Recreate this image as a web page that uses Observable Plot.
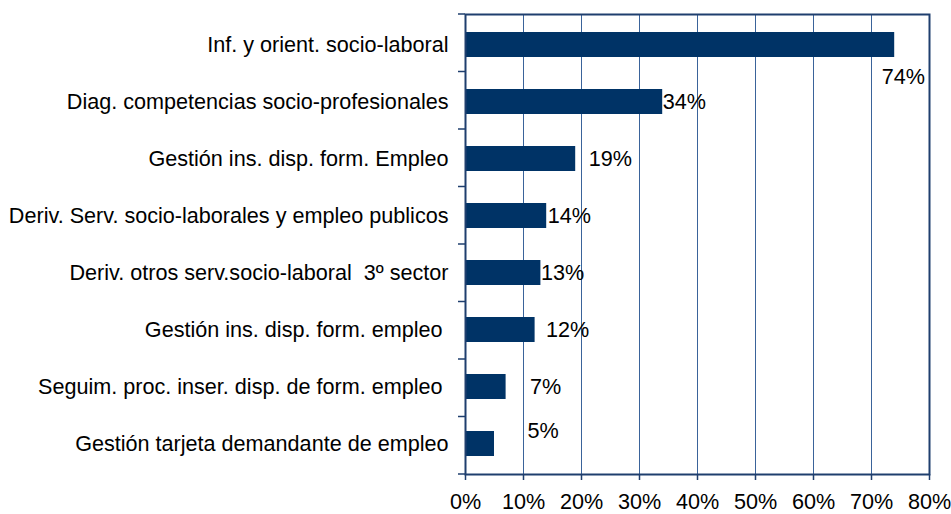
<!DOCTYPE html>
<html>
<head>
<meta charset="utf-8">
<script src="https://cdn.jsdelivr.net/npm/d3@7"></script>
<script src="https://cdn.jsdelivr.net/npm/@observablehq/plot@0.6"></script>
<style>
  html, body { margin: 0; padding: 0; background: #fff; }
</style>
</head>
<body>
<div id="chart"></div>
<script>
const categories = [
  "Inf. y orient. socio-laboral",
  "Diag. competencias socio-profesionales",
  "Gestión ins. disp. form. Empleo",
  "Deriv. Serv. socio-laborales y empleo publicos",
  "Deriv. otros serv.socio-laboral  3º sector",
  "Gestión ins. disp. form. empleo ",
  "Seguim. proc. inser. disp. de form. empleo ",
  "Gestión tarjeta demandante de empleo"
];
const values = [74, 34, 19, 14, 13, 12, 7, 5];
const xTicks = [0, 10, 20, 30, 40, 50, 60, 70, 80];
const gridTicks = [10, 20, 30, 40, 50, 60, 70];

const data = categories.map((c, i) => ({category: c, value: values[i]}));

// label placement offsets (pixels) mimicking the original layout
const labelOffsets = [[-13, 32], [0, 0], [13, 0], [1, 0], [0, 0], [11, 0], [24, 0], [33, -13]];

const W = 951, H = 514, mL = 465, mR = 22, mT = 14, mB = 40;
const FS = 21.6;
const frameColor = "#1f3f6e";
const gridColor = "#3a639a";

const bandTicks = (index, scales, values, dims) => {
  const g = d3.create("svg:g");
  const top = dims.marginTop, bottom = dims.height - dims.marginBottom;
  const n = categories.length;
  const step = (bottom - top) / n;
  for (let k = 0; k <= n; k++) {
    g.append("line")
      .attr("x1", dims.marginLeft - 7).attr("x2", dims.marginLeft)
      .attr("y1", top + k * step).attr("y2", top + k * step)
      .attr("stroke", frameColor).attr("stroke-width", 1.5);
  }
  return g.node();
};

const labelMarks = data.map((d, i) => Plot.text([d], {
  x: "value", y: "category", text: v => v.value + "%",
  textAnchor: "start", dx: labelOffsets[i][0], dy: labelOffsets[i][1],
  fill: "#000", fontSize: FS
}));

const chart = Plot.plot({
  width: W, height: H,
  marginLeft: mL, marginRight: mR, marginTop: mT, marginBottom: mB,
  style: {fontFamily: "'Liberation Sans', Arial, sans-serif", fontSize: FS + "px", color: "#000", background: "#fff"},
  x: {domain: [0, 80]},
  y: {domain: categories, paddingInner: 0.565, paddingOuter: 0.2825},
  marks: [
    Plot.ruleX(gridTicks, {stroke: gridColor, strokeWidth: 1}),
    Plot.barX(data, {x: "value", y: "category", fill: "#003366"}),
    Plot.frame({stroke: frameColor, strokeWidth: 2}),
    Plot.axisX({ticks: xTicks, tickFormat: d => d + "%", tickSize: 6, tickPadding: 13, stroke: frameColor, strokeWidth: 1.5, label: null, fontSize: FS}),
    Plot.axisY({tickSize: 0, tickPadding: 17, label: null, fontSize: FS}),
    bandTicks,
    ...labelMarks
  ]
});
document.getElementById("chart").appendChild(chart);
</script>
</body>
</html>
